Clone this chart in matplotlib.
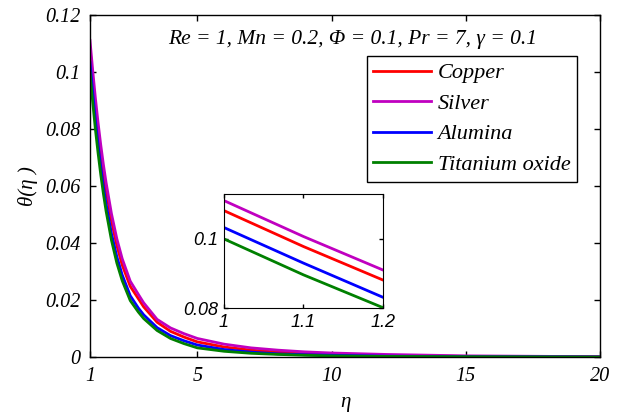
import numpy as np
import matplotlib
matplotlib.use("Agg")
import matplotlib.pyplot as plt

# valores
eta = [1, 1.1, 1.2, 1.3, 1.4, 1.5, 1.6, 1.8, 2, 2.2, 2.5, 2.8, 3, 3.5, 4, 4.5, 5,
       6, 7, 8, 9, 10, 12, 15, 20]
cobre = [0.1082, 0.0978, 0.0881, 0.0795, 0.0718, 0.0648, 0.0585, 0.0478, 0.0392, 0.0323,
         0.0248, 0.0205, 0.0176, 0.0122, 0.0090, 0.0070, 0.0053,
         0.0035, 0.0024, 0.0017, 0.0012, 0.0009, 0.0005, 0.0002, 0.0001]
plata = [0.1111, 0.1007, 0.0910, 0.0823, 0.0745, 0.0675, 0.0612, 0.0503, 0.0415, 0.0345,
         0.0266, 0.0220, 0.0190, 0.0132, 0.0102, 0.0082, 0.0065,
         0.0045, 0.0032, 0.0024, 0.0018, 0.0014, 0.0009, 0.0004, 0.0001]
alumina = [0.1033, 0.0930, 0.0831, 0.0745, 0.0668, 0.0598, 0.0537, 0.0433, 0.0352, 0.0288,
           0.0215, 0.0172, 0.0148, 0.0103, 0.0075, 0.0057, 0.0042,
           0.0026, 0.0017, 0.0011, 0.0008, 0.0006, 0.0003, 0.0001, 0.0]
titanio = [0.1000, 0.0896, 0.0801, 0.0717, 0.0641, 0.0573, 0.0512, 0.0410, 0.0330, 0.0268,
           0.0198, 0.0158, 0.0135, 0.0093, 0.0065, 0.0047, 0.0032,
           0.0020, 0.0013, 0.0009, 0.0006, 0.0004, 0.0002, 0.0001, 0.0]

nombres = ["Copper", "Silver", "Alumina", "Titanium oxide"]
colores = ["#ff0000", "#c000c0", "#0000ff", "#008000"]
series = [cobre, plata, alumina, titanio]

serif = "Liberation Serif"
sans = "Liberation Sans"

fig = plt.figure(figsize=(6.21, 4.19), dpi=100)
ax = fig.add_axes([0.1449, 0.148, 0.8213, 0.816])

for y, c, n in zip(series, colores, nombres):
    ax.plot(eta, y, color=c, lw=2, label=n)

ax.set_xlim(1, 20)
ax.set_ylim(0, 0.12)
ax.set_xticks([1, 5, 10, 15, 20])
ax.set_yticks([0, 0.02, 0.04, 0.06, 0.08, 0.1, 0.12])
ax.set_xticklabels(["1", "5", "10", "15", "20"])
ax.set_yticklabels(["0", "0.02", "0.04", "0.06", "0.08", "0.1", "0.12"])
ax.tick_params(direction="in", top=True, right=True, length=4, width=1, pad=7)
for lab in ax.get_xticklabels() + ax.get_yticklabels():
    lab.set_fontfamily(serif)
    lab.set_fontstyle("italic")
    lab.set_fontsize(14.5)
for s in ax.spines.values():
    s.set_linewidth(1)

ax.set_xlabel("η", fontsize=15, family=serif, style="italic", labelpad=5)
ax.set_ylabel("θ(η )", fontsize=15, family=serif, style="italic", labelpad=5)

ax.text(0.515, 0.93, "Re = 1, Mn = 0.2, Φ = 0.1, Pr = 7, γ = 0.1",
        transform=ax.transAxes, ha="center", va="center",
        fontsize=15.5, family=serif, style="italic")

leg = ax.legend(loc="upper right", bbox_to_anchor=(0.955, 0.88),
                prop={"family": serif, "style": "italic", "size": 16},
                fancybox=False, edgecolor="black", framealpha=1,
                handlelength=2.6, handletextpad=0.3, labelspacing=0.45,
                borderpad=0.3, borderaxespad=0)
leg.get_frame().set_linewidth(1)

# recuadro ampliado
ins = fig.add_axes([0.3607, 0.2649, 0.256, 0.272])
for y, c in zip(series, colores):
    ins.plot(eta, y, color=c, lw=2)
ins.set_xlim(1, 1.2)
ins.set_ylim(0.08, 0.113)
ins.set_xticks([1, 1.1, 1.2])
ins.set_xticklabels(["1", "1.1", "1.2"])
ins.set_yticks([0.08, 0.1])
ins.set_yticklabels(["0.08", "0.1"])
ins.tick_params(direction="in", top=True, right=True, length=3, width=1, pad=4)
for lab in ins.get_xticklabels() + ins.get_yticklabels():
    lab.set_fontfamily(sans)
    lab.set_fontstyle("italic")
    lab.set_fontsize(13)

fig.savefig("out.png", dpi=100)
